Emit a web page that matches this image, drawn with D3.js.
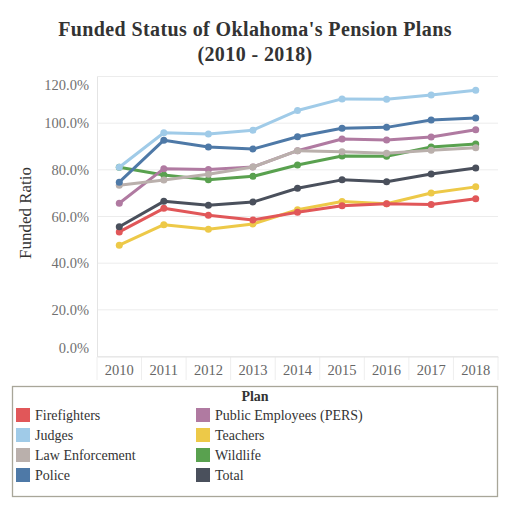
<!DOCTYPE html>
<html lang="en">
<head>
<meta charset="UTF-8">
<title>Funded Status of Oklahoma's Pension Plans</title>
<script src="https://d3js.org/d3.v7.min.js"></script>
<style>
  body { margin: 0; background: #fff; }
  text { font-family: "Liberation Serif", "DejaVu Serif", serif; }
</style>
</head>
<body>
<script>
// data
var years = ["2010", "2011", "2012", "2013", "2014", "2015", "2016", "2017", "2018"];
var yTicks = [0, 20, 40, 60, 80, 100, 120];

var firefighters   = [53.4, 63.5, 60.5, 58.5, 61.8, 64.6, 65.5, 65.1, 67.6];
var judges         = [81.1, 95.9, 95.4, 97.0, 105.4, 110.4, 110.2, 112.1, 114.1];
var lawEnforcement = [73.4, 75.6, 78.1, 81.2, 88.2, 87.7, 87.1, 88.4, 89.5];
var police         = [74.7, 92.7, 89.8, 88.9, 94.2, 97.8, 98.2, 101.4, 102.2];
var pers           = [65.7, 80.5, 80.1, 81.2, 88.2, 93.2, 92.8, 94.1, 97.2];
var teachers       = [47.7, 56.5, 54.5, 56.8, 62.9, 66.4, 65.5, 70.1, 72.7];
var wildlife       = [81.1, 77.8, 75.8, 77.2, 82.1, 85.9, 85.8, 89.8, 91.1];
var total          = [55.6, 66.5, 64.8, 66.2, 72.1, 75.7, 74.9, 78.2, 80.8];

var plans = [
  {name: "Firefighters", values: firefighters, color: "#e15759"},
  {name: "Judges", values: judges, color: "#a0cbe8"},
  {name: "Law Enforcement", values: lawEnforcement, color: "#bab0ac"},
  {name: "Police", values: police, color: "#4e79a7"},
  {name: "Public Employees (PERS)", values: pers, color: "#b07aa1"},
  {name: "Teachers", values: teachers, color: "#edc948"},
  {name: "Wildlife", values: wildlife, color: "#59a14f"},
  {name: "Total", values: total, color: "#4a505c"}
];
// order lines are painted in
var drawOrder = ["Teachers", "Firefighters", "Wildlife", "Public Employees (PERS)", "Law Enforcement", "Police", "Judges", "Total"];

var W = 510, H = 510;
var svg = d3.select("body").append("svg")
    .attr("width", W)
    .attr("height", H);

// title
svg.append("text")
    .attr("x", 255).attr("y", 36)
    .attr("text-anchor", "middle")
    .style("font-size", "20px").style("font-weight", "bold").style("fill", "#333")
    .style("letter-spacing", "0.4px")
    .text("Funded Status of Oklahoma's Pension Plans");
svg.append("text")
    .attr("x", 255).attr("y", 61)
    .attr("text-anchor", "middle")
    .style("font-size", "20px").style("font-weight", "bold").style("fill", "#333")
    .style("letter-spacing", "0.4px")
    .text("(2010 - 2018)");

var x = d3.scaleBand().domain(years).range([97, 498]);
var y = d3.scaleLinear().domain([0, 120]).range([356.5, 76.5]);
var cx = function(d){ return x(d) + x.bandwidth() / 2; };

// gridlines
svg.append("g").selectAll("line")
    .data(yTicks)
    .enter().append("line")
    .attr("x1", 97).attr("x2", 498)
    .attr("y1", function(d){ return y(d); })
    .attr("y2", function(d){ return y(d); })
    .style("stroke", "#ececec").style("stroke-width", 1);

// y axis
var yAxis = svg.append("g")
    .attr("transform", "translate(97,0)")
    .call(d3.axisLeft(y).tickValues(yTicks).tickSize(0).tickPadding(8)
        .tickFormat(function(d){ return d.toFixed(1) + "%"; }));
yAxis.select(".domain").style("stroke", "#e4e4e4");
yAxis.selectAll("text")
    .style("font-size", "14.5px").style("fill", "#707070")
    .attr("dy", function(d){
        if (d === 120) return "0.9em";
        if (d === 0) return "-0.3em";
        return "0.32em";
    });

// y axis title
svg.append("text")
    .attr("transform", "translate(31,213) rotate(-90)")
    .attr("text-anchor", "middle")
    .style("font-size", "17px").style("fill", "#333")
    .text("Funded Ratio");

// x axis header dividers
svg.append("g").selectAll("line")
    .data(years.concat(["end"]))
    .enter().append("line")
    .attr("x1", function(d){ return d === "end" ? 498 : x(d); })
    .attr("x2", function(d){ return d === "end" ? 498 : x(d); })
    .attr("y1", 357).attr("y2", 380)
    .style("stroke", "#eeeeee");

var xAxis = svg.append("g")
    .attr("transform", "translate(0,356.5)")
    .call(d3.axisBottom(x).tickSize(0).tickPadding(8));
xAxis.select(".domain").style("stroke", "#e4e4e4");
xAxis.selectAll("text")
    .style("font-size", "14.5px").style("fill", "#666");

// lines and points
var line = d3.line()
    .x(function(d, i){ return cx(years[i]); })
    .y(function(d){ return y(d); });

drawOrder.forEach(function(name){
    var p = plans.find(function(q){ return q.name === name; });
    var g = svg.append("g");
    g.append("path")
        .datum(p.values)
        .attr("d", line)
        .style("fill", "none")
        .style("stroke", p.color)
        .style("stroke-width", 3)
        .style("stroke-linejoin", "round");
    g.selectAll("circle")
        .data(p.values)
        .enter().append("circle")
        .attr("cx", function(d, i){ return cx(years[i]); })
        .attr("cy", function(d){ return y(d); })
        .attr("r", 3.5)
        .style("fill", p.color);
});

// legend
var legend = svg.append("g");
legend.append("rect")
    .attr("x", 12.5).attr("y", 386.5)
    .attr("width", 485).attr("height", 110)
    .style("fill", "none").style("stroke", "#a8a699").style("stroke-width", 1.3);
legend.append("text")
    .attr("x", 255).attr("y", 401)
    .attr("text-anchor", "middle")
    .style("font-size", "14px").style("font-weight", "bold").style("fill", "#333")
    .text("Plan");

var items = legend.selectAll(".item")
    .data(plans)
    .enter().append("g")
    .attr("class", "item")
    .attr("transform", function(d, i){
        var col = Math.floor(i / 4), row = i % 4;
        return "translate(" + (16 + col * 180) + "," + (408 + row * 20) + ")";
    });
items.append("rect")
    .attr("width", 14).attr("height", 14)
    .style("fill", function(d){ return d.color; });
items.append("text")
    .attr("x", 19).attr("y", 12)
    .style("font-size", "14px").style("fill", "#333")
    .text(function(d){ return d.name; });
</script>
</body>
</html>
